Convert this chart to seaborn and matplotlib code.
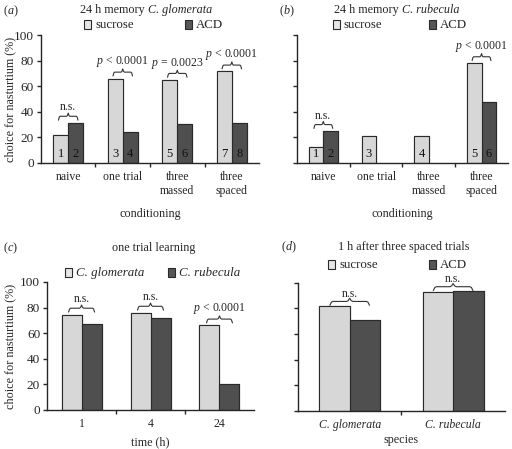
import numpy as np
import pandas as pd
import matplotlib.pyplot as plt
import seaborn as sns
from matplotlib.ticker import FixedLocator

# data
cond = ["naive", "one trial", "three\nmassed", "three\nspaced"]
glom_sucrose = [22, 66, 65, 71.5]
glom_acd = [31.5, 24, 30.5, 31.5]
rub_sucrose = [12.5, 21, 21, 78]
rub_acd = [25, np.nan, np.nan, 48]
glom_p = ["n.s.", "$p$ < 0.0001", "$p$ = 0.0023", "$p$ < 0.0001"]
rub_p = ["n.s.", None, None, "$p$ < 0.0001"]

times = ["1", "4", "24"]
time_glom = [74.5, 76, 66]
time_rub = [67.5, 72, 20.5]
time_p = ["n.s.", "n.s.", "$p$ < 0.0001"]

species = ["C. glomerata", "C. rubecula"]
spaced_sucrose = [82, 92.5]
spaced_acd = [71, 93.5]
spaced_p = ["n.s.", "n.s."]

sns.set_style("ticks")
plt.rcParams['font.family'] = ['Liberation Serif', 'DejaVu Serif']
plt.rcParams['mathtext.fontset'] = 'custom'
plt.rcParams['mathtext.rm'] = 'Liberation Serif'
plt.rcParams['mathtext.it'] = 'Liberation Serif:italic'
plt.rcParams['font.size'] = 8.5
plt.rcParams['hatch.linewidth'] = 0.6

LIGHT = "#e6e6e6"
DARK = "#575757"
EDGE = "#2a2a2a"


def long_df(cats, a, b, names):
    rows = []
    for c, va, vb in zip(cats, a, b):
        if not np.isnan(va):
            rows.append((c, names[0], va))
        if not np.isnan(vb):
            rows.append((c, names[1], vb))
    return pd.DataFrame(rows, columns=["cat", "grp", "val"])


def panel(ax, cats, a, b, names, width, ptexts, numbers=False, ylabels=True, gap=5, tgap=2.2):
    df = long_df(cats, np.array(a, float), np.array(b, float), names)
    sns.barplot(data=df, x="cat", y="val", hue="grp", order=cats, hue_order=names,
                palette=[LIGHT, DARK], width=width, edgecolor=EDGE, linewidth=0.8,
                saturation=1, legend=False, ax=ax)
    n = len(cats)
    ax.set_xlim(-0.5, n - 0.5)
    ax.set_ylim(0, 100)
    ax.set_yticks([0, 20, 40, 60, 80, 100])
    if not ylabels:
        ax.set_yticklabels([])
    ax.tick_params(axis="x", which="major", length=0, pad=6, labelsize=8.5)
    ax.tick_params(axis="y", length=3, width=1, direction="out", pad=2, labelsize=9.5)
    ax.xaxis.set_minor_locator(FixedLocator(np.arange(0.5, n - 0.5)))
    ax.tick_params(axis="x", which="minor", length=3, width=1, direction="out")
    sns.despine(ax=ax)
    for s in ["left", "bottom"]:
        ax.spines[s].set_linewidth(1)
    ax.set_xlabel("")
    ax.set_ylabel("")

    bars = sorted([p for p in ax.patches if p.get_height() > 0], key=lambda p: p.get_x())
    # faint stripe texture on the bars
    for p in bars:
        light = p.get_facecolor()[0] > 0.5
        ax.add_patch(plt.Rectangle((p.get_x(), 0), p.get_width(), p.get_height(),
                                   fill=False, lw=0, hatch="|" * 22 if light else "/" * 18,
                                   edgecolor="#d7d7d7" if light else "#4b4b4b", zorder=p.get_zorder()))
        ax.add_patch(plt.Rectangle((p.get_x(), 0), p.get_width(), p.get_height(),
                                   fill=False, lw=0.8, edgecolor=EDGE, zorder=p.get_zorder()))
    if numbers:
        for i, p in enumerate(bars):
            ax.text(p.get_x() + p.get_width() / 2, 7, str(i + 1), ha="center", va="center",
                    fontsize=9, color="#111111", zorder=5)
    # braces with significance text
    for i, t in enumerate(ptexts):
        if t is None:
            continue
        grp = [p for p in bars if abs(p.get_x() + p.get_width() / 2 - i) < 0.5]
        x1 = grp[0].get_x() + grp[0].get_width() * 0.35
        x2 = grp[-1].get_x() + grp[-1].get_width() * 0.65
        top = max(p.get_height() for p in grp)
        y = top + gap
        xm = (x1 + x2) / 2
        d = 0.03
        bx = [x1, x1 + d / 2, x1 + d, xm - d, xm - d / 2, xm, xm + d / 2, xm + d, x2 - d, x2 - d / 2, x2]
        by = [y - 3, y - 0.6, y, y, y + 0.6, y + 2.5, y + 0.6, y, y, y - 0.6, y - 3]
        ax.plot(bx, by, color="#333333", lw=0.8, clip_on=False)
        ax.text(xm, y + tgap, t, ha="center", va="bottom", fontsize=8.5, clip_on=False)


def legend(fig, names, x1, x2, y, style="normal"):
    for name, col, x in zip(names, [LIGHT, DARK], [x1, x2]):
        fig.patches.append(plt.Rectangle((x / 512, 1 - (y + 4) / 449), 7 / 512, 9 / 449,
                                         transform=fig.transFigure, facecolor=col,
                                         edgecolor=EDGE, lw=0.8))
        fig.text((x + 11) / 512, 1 - y / 449, name, ha="left", va="center", fontsize=9.3,
                 fontstyle=style)


def title(fig, x, y, plain, ital=None):
    t = fig.text(x / 512, 1 - y / 449, plain, ha="left", va="baseline", fontsize=8.7)
    if ital:
        ext = t.get_window_extent(renderer=fig.canvas.get_renderer())
        fig.text((ext.x1 + 3) / 512, 1 - y / 449, ital, ha="left", va="baseline", fontsize=8.7,
                 fontstyle="italic")


fig = plt.figure(figsize=(5.12, 4.49), dpi=100)
axa = fig.add_axes([0.080, 0.637, 0.426, 0.285])
axb = fig.add_axes([0.580, 0.637, 0.412, 0.285])
axc = fig.add_axes([0.092, 0.087, 0.404, 0.285])
axd = fig.add_axes([0.582, 0.085, 0.404, 0.285])

panel(axa, cond, glom_sucrose, glom_acd, ["sucrose", "ACD"], 0.55, glom_p, numbers=True)
panel(axb, cond, rub_sucrose, rub_acd, ["sucrose", "ACD"], 0.55, rub_p, numbers=True, ylabels=False)
panel(axc, times, time_glom, time_rub, ["C. glomerata", "C. rubecula"], 0.58, time_p)
panel(axd, species, spaced_sucrose, spaced_acd, ["sucrose", "ACD"], 0.59, spaced_p,
      ylabels=False, gap=3.5, tgap=1.2)

for lab in axd.get_xticklabels():
    lab.set_fontstyle("italic")

for ax in [axa, axb]:
    ax.set_xlabel("conditioning", fontsize=8.7, labelpad=8)
axc.set_xlabel("time (h)", fontsize=8.7, labelpad=4)
axd.set_xlabel("species", fontsize=8.7, labelpad=2)
axa.set_ylabel("choice for nasturtium (%)", fontsize=8.7)
axc.set_ylabel("choice for nasturtium (%)", fontsize=8.7)
axa.yaxis.set_label_coords(-0.112, 0.5)
axc.yaxis.set_label_coords(-0.15, 0.5)

# panel letters and titles
fig.text(3 / 512, 1 - 14 / 449, "($\\mathit{a}$)", fontsize=8.7, va="baseline")
title(fig, 80, 13, "24 h memory", "C. glomerata")
fig.text(279 / 512, 1 - 14 / 449, "($\\mathit{b}$)", fontsize=8.7, va="baseline")
title(fig, 334, 13, "24 h memory", "C. rubecula")
fig.text(3 / 512, 1 - 251 / 449, "($\\mathit{c}$)", fontsize=8.7, va="baseline")
title(fig, 112, 251, "one trial learning")
fig.text(281 / 512, 1 - 250 / 449, "($\\mathit{d}$)", fontsize=8.7, va="baseline")
title(fig, 338, 250, "1 h after three spaced trials")

legend(fig, ["sucrose", "ACD"], 84, 185, 25)
legend(fig, ["sucrose", "ACD"], 333, 429, 25)
legend(fig, ["C. glomerata", "C. rubecula"], 65, 168, 273, style="italic")
legend(fig, ["sucrose", "ACD"], 328, 429, 265)

fig.savefig("out.png", dpi=100)
